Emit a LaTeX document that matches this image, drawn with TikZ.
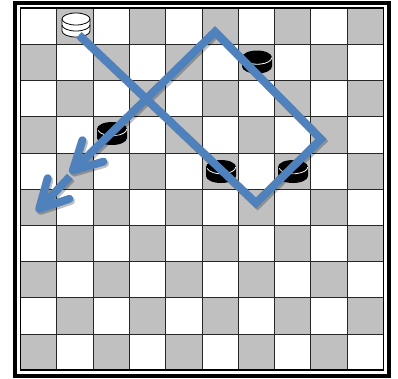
\documentclass[tikz,border=0pt]{standalone}
\usetikzlibrary{arrows.meta}
\definecolor{sqgray}{HTML}{C0C0C0}
\definecolor{moveblue}{HTML}{4F81BD}
\tikzset{
  sqfill/.style={fill=sqgray},
  gridln/.style={line width=1pt, draw=black!85},
  boardln/.style={line width=1.8pt, draw=black},
  frameln/.style={line width=4pt, draw=black},
  moveln/.style={draw=moveblue, line width=8pt, line join=miter},
  shadowln/.style={draw=black, opacity=0.25, line width=8pt, line join=miter},
  movetip/.style={-{Straight Barb[length=28pt,width=30pt,round]}},
  pcline/.style={line width=0.8pt}
}
\newcommand\blackpc[1]{%
  \begin{scope}[shift={(#1)}]
    \fill[black] (-15,-4.5) -- (-15,4.5) arc[start angle=180,end angle=0,x radius=15,y radius=7] -- (15,-4.5) -- cycle;
    \fill[black] (0,-4.5) ellipse[x radius=15,y radius=7];
    \draw[white,pcline] (-13.8,-3) arc[start angle=168,end angle=0,x radius=14.4,y radius=6.6];
  \end{scope}}
\newcommand\whiteking[1]{%
  \begin{scope}[shift={(#1)}]
    \filldraw[fill=white,draw=black,pcline] (-14,-6) -- (-14,6) arc[start angle=180,end angle=0,x radius=14,y radius=6] -- (14,-6);
    \filldraw[fill=white,draw=black,pcline] (0,-6) ellipse[x radius=14,y radius=6];
    \draw[black,pcline] (-14,0) arc[start angle=180,end angle=0,x radius=14,y radius=6];
  \end{scope}}
\begin{document}
\begin{tikzpicture}[x=1pt,y=-1pt]
\useasboundingbox (0,0) rectangle (398,378);
\fill[white] (0,0) rectangle (398,378);
% board squares
\begin{scope}[shift={(20.5,8.3)}]
  \foreach \r in {0,...,9} {
    \foreach \c in {0,...,9} {
      \pgfmathtruncatemacro\odd{mod(\r+\c,2)}
      \ifnum\odd=1
        \fill[sqfill] (\c*36.3,\r*36.2) rectangle ++(36.3,36.2);
      \fi
    }
  }
  \foreach \i in {1,...,9} {
    \draw[gridln] (\i*36.3,0) -- (\i*36.3,362);
    \draw[gridln] (0,\i*36.2) -- (363,\i*36.2);
  }
  \draw[boardln] (0,0) rectangle (363,362);
\end{scope}
\draw[frameln] (15.3,3) rectangle (389.2,376);
% pieces
\coordinate (wk) at (76,25);
\coordinate (bp1) at (257,62);
\coordinate (bp2) at (112,133.5);
\coordinate (bp3) at (221,171.5);
\coordinate (bp4) at (293,171.5);
\whiteking{wk}
\blackpc{bp1}
\blackpc{bp2}
\blackpc{bp3}
\blackpc{bp4}
% move path
\coordinate (a) at (79,35);
\coordinate (b) at (256,203);
\coordinate (c) at (321,139);
\coordinate (d) at (215,31.7);
\coordinate (e) at (70,173.3);
\coordinate (e2) at (70,176.5);
\coordinate (f) at (36.5,211.7);
\begin{scope}[transform canvas={shift={(1.6pt,-2pt)}}]
  \draw[shadowln,movetip] (a) -- (b) -- (c) -- (d) -- (e);
  \draw[shadowln,movetip] (e2) -- (f);
\end{scope}
\draw[moveln,movetip] (a) -- (b) -- (c) -- (d) -- (e);
\draw[moveln,movetip] (e2) -- (f);
\end{tikzpicture}
\end{document}
